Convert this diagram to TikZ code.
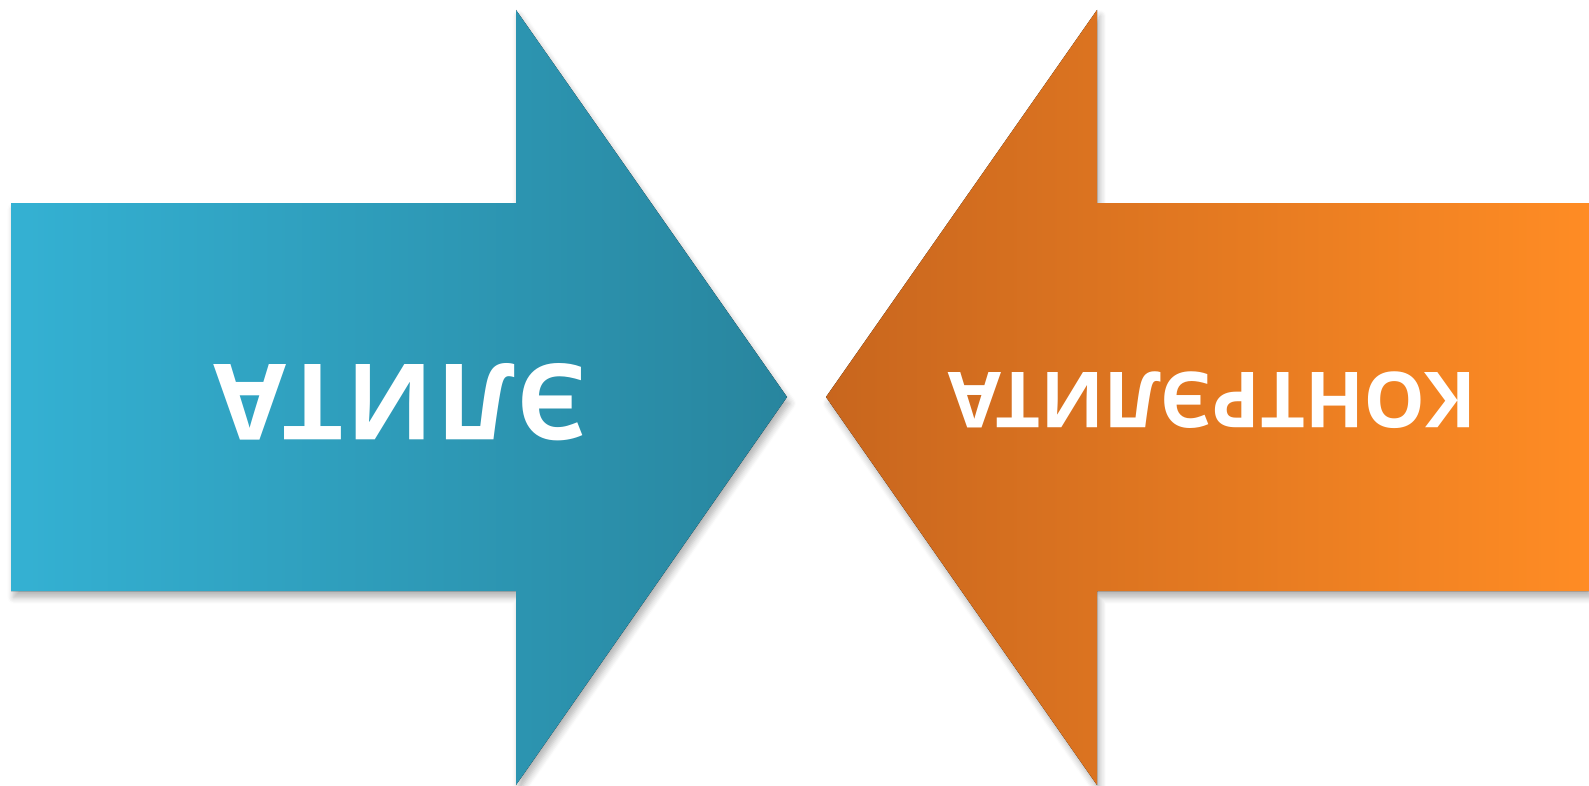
\documentclass[tikz,border=0pt]{standalone}
\usepackage{fontspec}
\setmainfont{Open Sans}
\newfontfamily\handfont[LetterSpace=3]{Open Sans}
\newfontfamily\handfontnarrow[LetterSpace=0]{Open Sans}
\usetikzlibrary{shadows.blur}
\definecolor{eliteleft}{RGB}{52,177,211}
\definecolor{eliteright}{RGB}{40,133,158}
\definecolor{counterleft}{RGB}{200,102,30}
\definecolor{counterright}{RGB}{255,140,36}
\tikzset{
  arrowshape/.style={blur shadow={shadow xshift=0.8pt, shadow yshift=-1.8pt,
      shadow blur radius=1.8pt, shadow blur steps=6, shadow opacity=30}},
  arrowtext/.style={text=white, rotate=180, inner sep=0pt}
}
\begin{document}
\begin{tikzpicture}[x=0.01cm,y=-0.01cm]
  \useasboundingbox (0,0) rectangle (1589,785);
  \fill[arrowshape, left color=eliteleft, right color=eliteright]
    (11,203) -- (516,203) -- (516,10) -- (787,397) -- (516,785)
    -- (516,591) -- (11,591) -- cycle;
  \fill[arrowshape, left color=counterleft, right color=counterright]
    (1589,203) -- (1097,203) -- (1097,10) -- (826,397) -- (1097,785)
    -- (1097,591) -- (1589,591) -- cycle;
  \node[arrowtext, font=\handfont\bfseries\fontsize{30}{36}\selectfont] (elite) at (400,402) {ЭЛИТА};
  \node[arrowtext, font=\handfontnarrow\bfseries\fontsize{22}{27}\selectfont] (counterelite) at (1212,400) {КОНТРЭЛИТА};
\end{tikzpicture}
\end{document}
